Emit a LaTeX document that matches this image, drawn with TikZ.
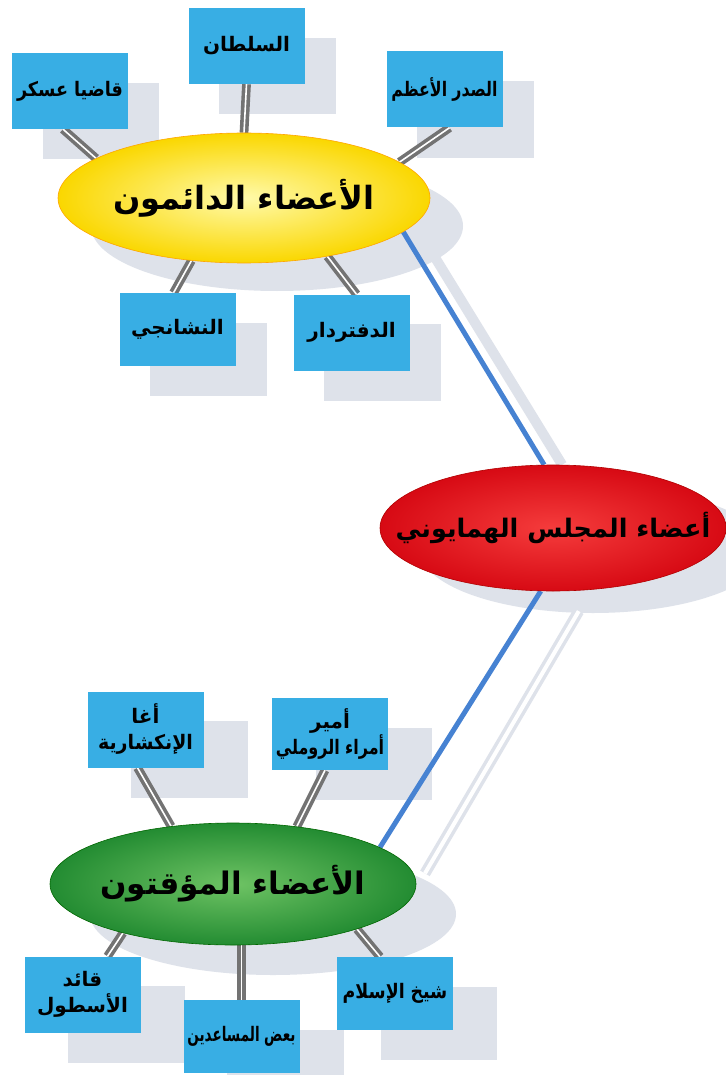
\documentclass[tikz,border=0pt]{standalone}
\usepackage{fontspec}
\newfontfamily\arabicfont[Script=Arabic]{DejaVu Sans}
\TeXXeTstate=1
\newcommand{\artxt}[1]{{\arabicfont\bfseries\beginR #1\endR}}
\newcommand{\squeezed}[2]{\scalebox{#1}[1]{\arabicfont\bfseries #2}}
\usetikzlibrary{shapes.geometric}
\pgfdeclarelayer{paperlayer}
\pgfdeclarelayer{shadowlayer}
\pgfdeclarelayer{linklayer}
\pgfsetlayers{paperlayer,shadowlayer,linklayer,main}
\definecolor{boxblue}{RGB}{56,174,228}
\definecolor{shadowgray}{RGB}{222,226,234}
\definecolor{linkblue}{RGB}{70,130,210}
\definecolor{yelin}{RGB}{255,250,170}
\definecolor{yelout}{RGB}{250,215,0}
\definecolor{redin}{RGB}{245,60,60}
\definecolor{redout}{RGB}{215,10,20}
\definecolor{grnin}{RGB}{110,195,100}
\definecolor{grnout}{RGB}{35,140,50}
\begin{document}
\begin{tikzpicture}[x=1pt,y=-1pt,
  box/.style={rectangle, fill=boxblue, minimum width=116pt, minimum height=76pt,
    text width=110pt, inner sep=2pt, align=center, font=\fontsize{20}{26}\selectfont},
  oval/.style={ellipse, inner sep=0pt, font=\fontsize{32}{36}\selectfont},
  thinlink/.style={draw=black!55, line width=3.6pt, double=white, double distance=1.6pt},
  biglink/.style={draw=linkblue, line width=5pt},
  shadowlink/.style={draw=shadowgray, line width=10pt},
  shadowfill/.style={fill=shadowgray}]
\begin{pgfonlayer}{paperlayer}
\fill[white] (0,0) rectangle (725,1075);
\end{pgfonlayer}
\useasboundingbox (0,0) rectangle (725,1075);

% ellipses
\node[oval, minimum width=372pt, minimum height=130pt, shading=radial,
  inner color=yelin, outer color=yelout, draw=orange!70!yellow, line width=0.6pt]
  (y) at (244,198) {\makebox[0pt]{\artxt{الأعضاء الدائمون}}};
\node[oval, minimum width=346pt, minimum height=126pt, shading=radial,
  inner color=redin, outer color=redout, draw=red!70!black, line width=0.6pt,
  font=\fontsize{25.5}{30}\selectfont]
  (r) at (553,528) {\makebox[0pt]{\artxt{أعضاء المجلس الهمايوني}}};
\node[oval, minimum width=366pt, minimum height=122pt, shading=radial,
  inner color=grnin, outer color=grnout, draw=green!40!black, line width=0.6pt,
  font=\fontsize{31}{35}\selectfont]
  (g) at (233,884) {\makebox[0pt]{\artxt{الأعضاء المؤقتون}}};

% boxes, upper group
\node[box] (k) at (70,91) {\squeezed{0.88}{\beginR قاضيا عسكر\endR}};
\node[box] (s) at (246.5,46) {\artxt{السلطان}};
\node[box] (sd) at (444.5,89.5) {\squeezed{0.79}{\beginR الصدر الأعظم\endR}};
\node[box, minimum height=73pt] (n) at (177.5,329.5) {\artxt{النشانجي}};
\node[box] (d) at (351.5,332.5) {\artxt{الدفتردار}};
% boxes, lower group
\node[box] (a) at (145.5,729.5) {\artxt{أغا}\\\squeezed{0.95}{\beginR الإنكشارية\endR}};
\node[box, minimum height=72pt] (m) at (330,734) {\artxt{أمير}\\\squeezed{0.8}{\beginR أمراء الروملي\endR}};
\node[box] (q) at (82.5,994.5) {\artxt{قائد}\\\artxt{الأسطول}};
\node[box, minimum height=73pt] (b) at (241.5,1036.5) {\squeezed{0.68}{\beginR بعض المساعدين\endR}};
\node[box, minimum height=73pt] (sh) at (395,993.5) {\squeezed{0.87}{\beginR شيخ الإسلام\endR}};

% shadows
\begin{pgfonlayer}{shadowlayer}
  \foreach \bx in {k,s,sd,n,d}
    \fill[shadowfill] ([shift={(31,30)}]\bx.north west) rectangle ([shift={(31,30)}]\bx.south east);
  \foreach \bx in {a,m,q,b,sh}
    \fill[shadowfill] ([shift={(44,30)}]\bx.north west) rectangle ([shift={(44,30)}]\bx.south east);
  \fill[shadowfill] (277,226) ellipse[x radius=186pt, y radius=65pt];
  \fill[shadowfill] (593,550) ellipse[x radius=173pt, y radius=63pt];
  \fill[shadowfill] (273,914) ellipse[x radius=183pt, y radius=61pt];
  \draw[shadowlink] ([shift={(16,0)}]y.348) -- ([shift={(18,0)}]r.98);
  \draw[draw=shadowgray, line width=11pt] ([shift={(38,20)}]r.259) -- ([shift={(45,26)}]g.14);
  \draw[draw=white, line width=4pt] ([shift={(38,20)}]r.259) -- ([shift={(45,26)}]g.14);
\end{pgfonlayer}

% connectors
\begin{pgfonlayer}{linklayer}
  \draw[biglink] (y.348) -- (r.98);
  \draw[biglink] (r.259) -- (g.14);
  \draw[thinlink] ([xshift=-7pt]k.south) -- (y.165);
  \draw[thinlink] (s.south) -- (y.90);
  \draw[thinlink] ([xshift=5pt]sd.south) -- (y.13);
  \draw[thinlink] ([xshift=-4pt]n.north) -- (y.230);
  \draw[thinlink] ([xshift=5pt]d.north) -- (y.325);
  \draw[thinlink] ([xshift=-8pt]a.south) -- (g.137);
  \draw[thinlink] ([xshift=-5pt]m.south) -- (g.42);
  \draw[thinlink] ([xshift=25pt]q.north) -- (g.204);
  \draw[thinlink] (b.north) -- (b.north |- g.south);
  \draw[thinlink] ([xshift=-15pt]sh.north) -- (g.340);
\end{pgfonlayer}
\end{tikzpicture}
\end{document}
